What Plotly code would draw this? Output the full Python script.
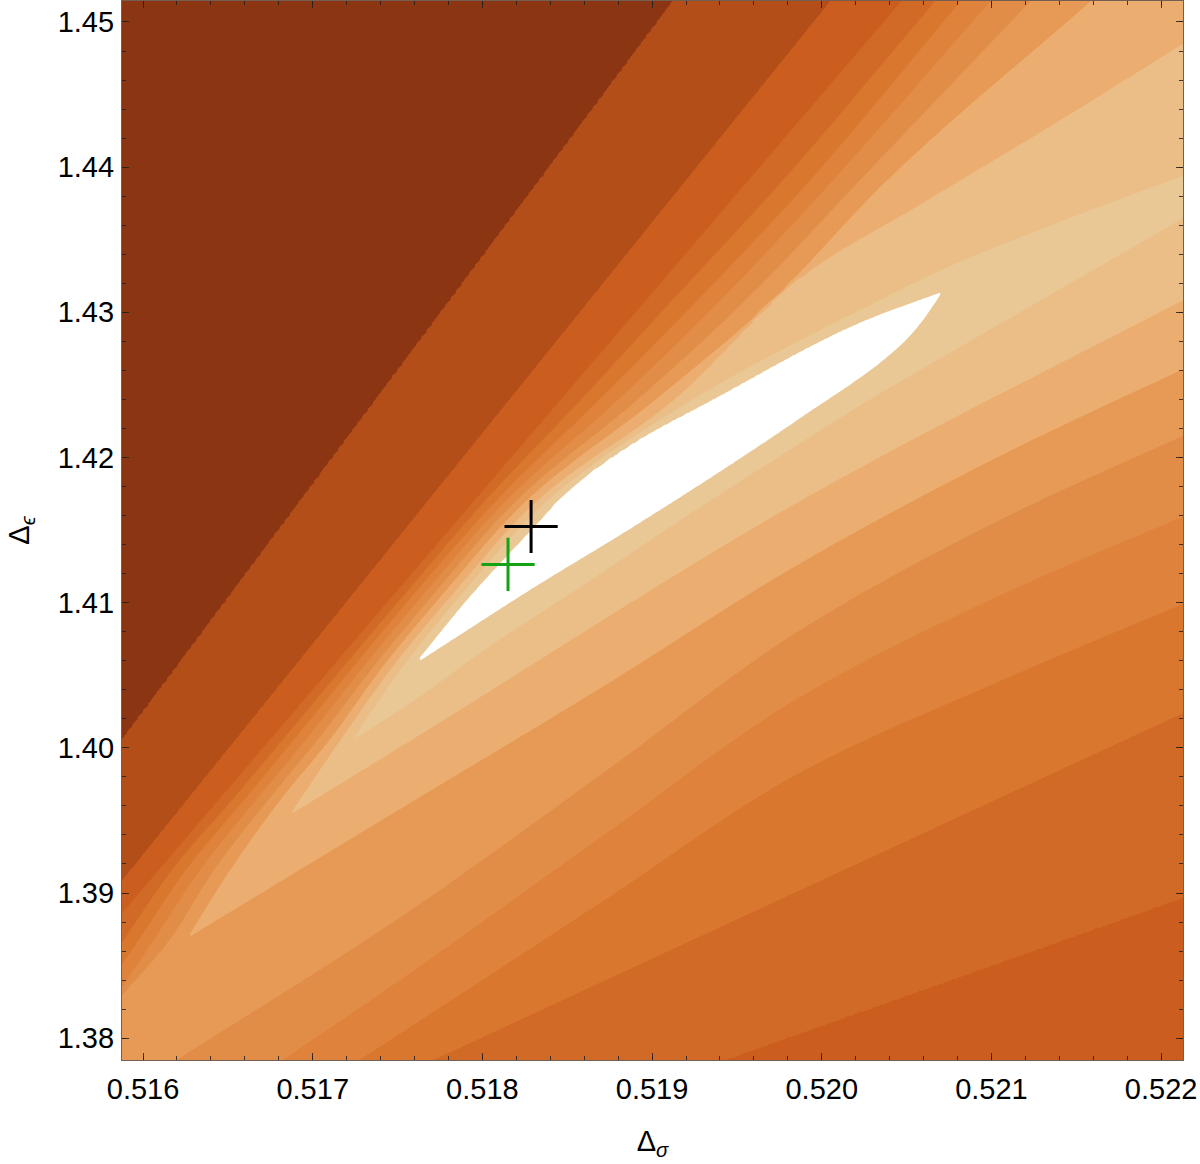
import numpy as np
import plotly.graph_objects as go

# ---------------- data ----------------
# fill colour of each contour band, from the allowed island (0) outward
level_colors = ["#FFFFFF", "#E9C896", "#EBBE88", "#EBAE70", "#E69A55", "#E28D47",
                "#DE823C", "#D9772F", "#D26A27", "#CB5E1F", "#B34E18", "#8B3513"]

# valley (bottom) of the field: Δσ, Δε and band level along it
valley_x = [0.515876, 0.516259, 0.516601, 0.516866, 0.517232, 0.517603, 0.518004,
            0.518605, 0.519206, 0.519807, 0.520402, 0.520709, 0.521404, 0.522205]
valley_y = [1.3815, 1.3869, 1.3916, 1.3954, 1.4005, 1.4058, 1.4101,
            1.4159, 1.4203, 1.4245, 1.4287, 1.4314, 1.4346, 1.4383]
valley_level = [4.3, 3.5, 2.94, 2.5, 1.5, 0.5, -0.5, -0.5, -0.5, -0.5, -0.5, 0.5, 0.75, 0.95]

# band boundaries on the upper-left side (between level k-1 and k)
row_y = [1.3869, 1.3916, 1.3964, 1.4005, 1.4058, 1.4102, 1.4170, 1.4239, 1.4308, 1.4391, 1.4514]
upper_x = {
    1: [0.517603, 0.517909, 0.518357, 0.518457, 0.518888, 0.519341, 0.520225, 0.520709],
    2: [0.517232, 0.517544, 0.517850, 0.518381, 0.519229, 0.520343, 0.520709, 0.521404, 0.522205],
    3: [0.516866, 0.517161, 0.517485, 0.517797, 0.518322, 0.519123, 0.519872, 0.520561, 0.521345, 0.522129],
    4: [0.516259, 0.516513, 0.516807, 0.517096, 0.517426, 0.517738, 0.518257, 0.519011, 0.519707, 0.520384, 0.521581],
    5: [0.515876, 0.516165, 0.516418, 0.516737, 0.517025, 0.517373, 0.517685, 0.518198, 0.518905, 0.519548, 0.520225, 0.521227],
    6: [0.516071, 0.516336, 0.516666, 0.516955, 0.517314, 0.517626, 0.518139, 0.518793, 0.519400, 0.520066, 0.520991],
    7: [0.515982, 0.516253, 0.516595, 0.516884, 0.517255, 0.517568, 0.518080, 0.518681, 0.519265, 0.519931, 0.520815],
    8: [0.515894, 0.516171, 0.516524, 0.516819, 0.517196, 0.517515, 0.518015, 0.518575, 0.519117, 0.519772, 0.520667],
    9: [0.515876, 0.519972],
    10: [0.515882, 0.520049],
    11: [0.515876, 0.519123],
}
upper_y = {
    1: [1.4058, 1.4102, 1.4159, 1.4172, 1.4210, 1.4239, 1.4293, 1.4314],
    2: [1.4005, 1.4058, 1.4102, 1.4170, 1.4239, 1.4308, 1.4329, 1.4362, 1.4397],
    3: [1.3954, 1.4005, 1.4058, 1.4102, 1.4170, 1.4239, 1.4324, 1.4373, 1.4428, 1.4485],
    4: row_y,
    5: [1.3830] + row_y,
    6: row_y,
    7: row_y,
    8: row_y,
    9: [1.3886, 1.4446],
    10: [1.3909, 1.4514],
    11: [1.4005, 1.4514],
}

# band boundaries on the lower-right side
lower_x = {
    1: [0.517603, 0.518298, 0.518888, 0.519872, 0.520461, 0.520579, 0.520709],
    2: [0.517232, 0.517603, 0.518004, 0.518605, 0.519206, 0.519872, 0.520225, 0.520709, 0.522129],
    3: [0.516866, 0.517603, 0.519872, 0.522205],
    4: [0.516259, 0.517515, 0.518693, 0.519872, 0.521050, 0.522205],
    5: [0.516200, 0.517515, 0.518693, 0.519872, 0.521050, 0.522205],
    6: [0.516825, 0.517515, 0.518693, 0.519872, 0.521050, 0.522205],
    7: [0.517279, 0.517515, 0.518693, 0.519872, 0.521050, 0.522205],
    8: [0.517709, 0.522129],
    9: [0.519424, 0.522129],
}
lower_y = {
    1: [1.4058, 1.4110, 1.4152, 1.4227, 1.4277, 1.4292, 1.4314],
    2: [1.4005, 1.4033, 1.4067, 1.4113, 1.4160, 1.4210, 1.4236, 1.4269, 1.4365],
    3: [1.3954, 1.4007, 1.4170, 1.4313],
    4: [1.3869, 1.3958, 1.4041, 1.4127, 1.4201, 1.4265],
    5: [1.3785, 1.3883, 1.3981, 1.4081, 1.4157, 1.4219],
    6: [1.3785, 1.3840, 1.3938, 1.4035, 1.4105, 1.4163],
    7: [1.3785, 1.3803, 1.3893, 1.3983, 1.4046, 1.4103],
    8: [1.3785, 1.4024],
    9: [1.3785, 1.3897],
}

# best-fit points
best_x = [0.518287]
best_y = [1.415246]
alt_x = [0.518151]
alt_y = [1.412631]

x_ticks = [0.516, 0.517, 0.518, 0.519, 0.520, 0.521, 0.522]
y_ticks = [1.38, 1.39, 1.40, 1.41, 1.42, 1.43, 1.44, 1.45]
x_range = [0.515876, 0.522129]
y_range = [1.378496, 1.451445]


# ---------------- smooth curves through the read boundary points ----------------
def pchip_ext(x, xp, fp):
    xp = np.asarray(xp, float)
    fp = np.asarray(fp, float)
    if len(xp) == 2:
        s = (fp[1] - fp[0]) / (xp[1] - xp[0])
        return fp[0] + (x - xp[0]) * s
    h = np.diff(xp)
    d = np.diff(fp) / h
    m = np.empty(len(xp))
    m[0], m[-1] = d[0], d[-1]
    for k in range(1, len(xp) - 1):
        if d[k - 1] * d[k] <= 0:
            m[k] = 0.0
        else:
            w1 = 2 * h[k] + h[k - 1]
            w2 = h[k] + 2 * h[k - 1]
            m[k] = (w1 + w2) / (w1 / d[k - 1] + w2 / d[k])
    if x <= xp[0]:
        return fp[0] + (x - xp[0]) * d[0]
    if x >= xp[-1]:
        return fp[-1] + (x - xp[-1]) * d[-1]
    i = int(np.searchsorted(xp, x) - 1)
    t = (x - xp[i]) / h[i]
    h00 = 2 * t**3 - 3 * t**2 + 1
    h10 = t**3 - 2 * t**2 + t
    h01 = -2 * t**3 + 3 * t**2
    h11 = t**3 - t**2
    return h00 * fp[i] + h10 * h[i] * m[i] + h01 * fp[i + 1] + h11 * h[i] * m[i + 1]


xg = np.linspace(x_range[0] - 0.00002, x_range[1] + 0.00002, 400)
yg = np.linspace(y_range[0] - 0.0002, y_range[1] + 0.0002, 460)
Z = np.empty((len(yg), len(xg)))
for j, xv in enumerate(xg):
    yv = pchip_ext(xv, valley_x, valley_y)
    lv = float(np.interp(xv, valley_x, valley_level))
    lo_pts, up_pts = [], []
    prev = yv
    for k in sorted(lower_x):
        zk = k - 0.5
        if zk <= lv:
            continue
        yk = pchip_ext(xv, lower_x[k], lower_y[k])
        if yk >= prev:
            yk = prev - 1e-6
        lo_pts.append((yk, zk))
        prev = yk
    prev = yv
    for k in sorted(upper_x):
        zk = k - 0.5
        if zk <= lv:
            continue
        yk = pchip_ext(xv, upper_x[k], upper_y[k])
        if yk <= prev:
            yk = prev + 1e-6
        up_pts.append((yk, zk))
        prev = yk
    pts = [(1.30, 9.4)] + lo_pts[::-1] + [(yv, lv)] + up_pts + [(1.60, 11.4)]
    ys = np.array([p[0] for p in pts])
    zs = np.array([p[1] for p in pts])
    Z[:, j] = np.interp(yg, ys, zs)
Z = np.round(Z, 3)

n = len(level_colors)
colorscale = []
for k, c in enumerate(level_colors):
    lo = max(0.0, (k - 0.5) / (n - 1))
    hi = min(1.0, (k + 0.5) / (n - 1))
    colorscale.append([lo, c])
    colorscale.append([hi, c])

fig = go.Figure()
fig.add_trace(go.Contour(
    x=xg, y=yg, z=Z,
    autocontour=False,
    contours=dict(start=0.5, end=n - 1.5, size=1, coloring="fill", showlines=False),
    colorscale=colorscale, showscale=False, line=dict(width=0),
    hoverinfo="skip",
))
fig.add_trace(go.Scatter(
    x=alt_x, y=alt_y, mode="markers",
    marker=dict(symbol="cross-thin", size=38, line=dict(width=3, color="#14A314")),
    hoverinfo="skip",
))
fig.add_trace(go.Scatter(
    x=best_x, y=best_y, mode="markers",
    marker=dict(symbol="cross-thin", size=38, line=dict(width=3, color="black")),
    hoverinfo="skip",
))

frame = "rgba(70,40,25,0.75)"
tickc = "rgba(40,30,25,0.85)"
fig.update_layout(
    width=1200, height=1164,
    margin=dict(l=122, r=17, t=1, b=104),
    paper_bgcolor="white", plot_bgcolor="white",
    showlegend=False,
    font=dict(family="Liberation Sans, Arial, sans-serif", color="black"),
)
fig.update_xaxes(
    range=x_range, tickvals=x_ticks, ticktext=[f"{v:.3f}" for v in x_ticks],
    ticks="inside", ticklen=7, tickwidth=1, tickcolor=tickc,
    minor=dict(dtick=0.0002, tick0=0.516, ticks="inside", ticklen=4, tickcolor=tickc),
    showline=True, linecolor=frame, linewidth=1.2, mirror="allticks",
    showgrid=False, zeroline=False, automargin=False,
    tickfont=dict(size=29), ticklabelstandoff=3,
    title=dict(text="Δ<sub><i>σ</i></sub>", font=dict(size=29), standoff=26),
)
fig.update_yaxes(
    range=y_range, tickvals=y_ticks, ticktext=[f"{v:.2f}" for v in y_ticks],
    ticks="inside", ticklen=7, tickwidth=1, tickcolor=tickc,
    minor=dict(dtick=0.002, tick0=1.38, ticks="inside", ticklen=4, tickcolor=tickc),
    showline=True, linecolor=frame, linewidth=1.2, mirror="allticks",
    showgrid=False, zeroline=False, automargin=False,
    tickfont=dict(size=29), ticklabelstandoff=1,
    title=dict(text="Δ<sub><i>ϵ</i></sub>", font=dict(size=29), standoff=19),
)

fig.write_html("out.html", config={"displayModeBar": False})
with open("out.html", "r", encoding="utf-8") as f:
    html = f.read()
html = html.replace("<head>", "<head><style>html,body{margin:0;padding:0;}</style>", 1)
with open("out.html", "w", encoding="utf-8") as f:
    f.write(html)
